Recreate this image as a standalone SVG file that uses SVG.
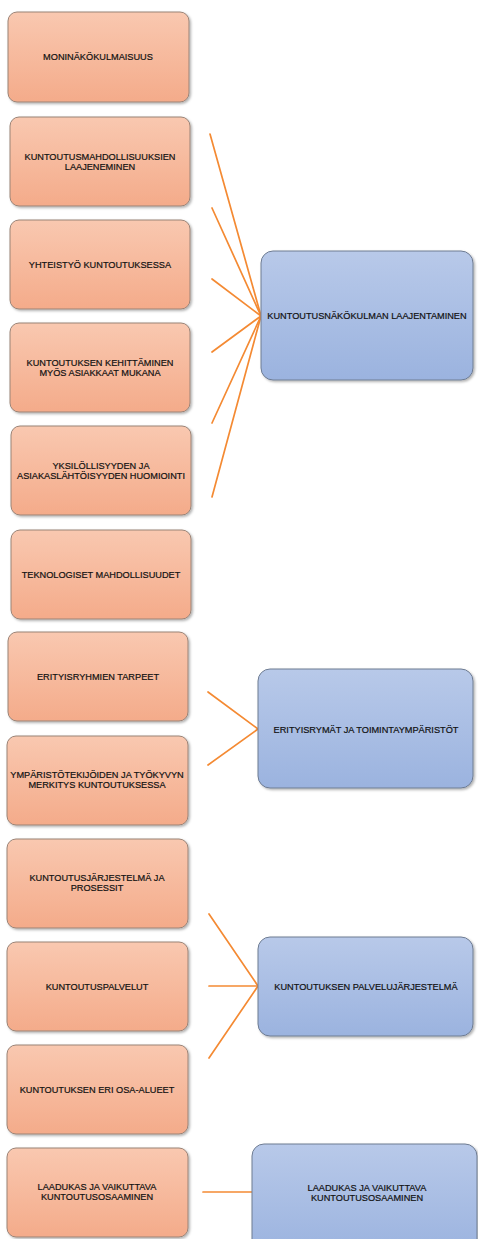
<svg xmlns="http://www.w3.org/2000/svg" width="478" height="1239" viewBox="0 0 478 1239">
  <style>
    .topic { stroke: #9a8376; stroke-width: 1; fill: url(#peach); filter: url(#shadow); }
    .theme { stroke: #6e7c92; stroke-width: 1; fill: url(#blue); filter: url(#shadow); }
    .label { font-family: "Liberation Sans", Arial, sans-serif; font-size: 9.2px; fill: #111111; stroke: #111111; stroke-width: 0.2; text-anchor: middle; }
    .link { stroke: #f48a33; stroke-width: 1.7; fill: none; stroke-linecap: round; }
  </style>
  <defs>
    <linearGradient id="peach" x1="0" y1="0" x2="0" y2="1">
      <stop offset="0" stop-color="#f9c8b0"/>
      <stop offset="1" stop-color="#f4ab8a"/>
    </linearGradient>
    <linearGradient id="blue" x1="0" y1="0" x2="0" y2="1">
      <stop offset="0" stop-color="#b8c9e9"/>
      <stop offset="1" stop-color="#9bb3df"/>
    </linearGradient>
    <filter id="shadow" x="-10%" y="-10%" width="125%" height="125%">
      <feDropShadow dx="1.5" dy="1.5" stdDeviation="1" flood-color="#000" flood-opacity="0.3"/>
    </filter>
  </defs>
  <rect width="478" height="1239" fill="#ffffff"/>

  <!-- connectors -->
  <g id="connectors">
    <line class="link" x1="210" y1="134" x2="261" y2="316"/>
    <line class="link" x1="212" y1="208" x2="261" y2="316"/>
    <line class="link" x1="212" y1="279" x2="261" y2="316"/>
    <line class="link" x1="212" y1="352" x2="261" y2="316"/>
    <line class="link" x1="212" y1="423" x2="261" y2="316"/>
    <line class="link" x1="212" y1="497" x2="261" y2="316"/>
    <line class="link" x1="208" y1="692" x2="258" y2="729"/>
    <line class="link" x1="208" y1="765" x2="258" y2="729"/>
    <line class="link" x1="209" y1="914" x2="258" y2="986"/>
    <line class="link" x1="209" y1="986" x2="258" y2="986"/>
    <line class="link" x1="209" y1="1058" x2="258" y2="986"/>
    <line class="link" x1="203" y1="1192" x2="252" y2="1192"/>
  </g>

  <!-- topic boxes -->
  <g id="moninakokulmaisuus">
    <rect class="topic" x="8" y="12" width="181" height="90" rx="9"/>
    <text class="label" x="98" y="60">MONINÄKÖKULMAISUUS</text>
  </g>
  <g id="mahdollisuudet">
    <rect class="topic" x="10" y="117" width="180" height="89" rx="9"/>
    <text class="label" x="100" y="160">KUNTOUTUSMAHDOLLISUUKSIEN</text>
    <text class="label" x="100" y="170">LAAJENEMINEN</text>
  </g>
  <g id="yhteistyo">
    <rect class="topic" x="10" y="220" width="180" height="89" rx="9"/>
    <text class="label" x="100" y="268">YHTEISTYÖ KUNTOUTUKSESSA</text>
  </g>
  <g id="kehittaminen">
    <rect class="topic" x="10" y="323" width="180" height="89" rx="9"/>
    <text class="label" x="100" y="366">KUNTOUTUKSEN KEHITTÄMINEN</text>
    <text class="label" x="100" y="376">MYÖS ASIAKKAAT MUKANA</text>
  </g>
  <g id="yksilollisyys">
    <rect class="topic" x="11" y="426" width="180" height="89" rx="9"/>
    <text class="label" x="101" y="469">YKSILÖLLISYYDEN JA</text>
    <text class="label" x="101" y="479">ASIAKASLÄHTÖISYYDEN HUOMIOINTI</text>
  </g>
  <g id="teknologia">
    <rect class="topic" x="11" y="530" width="180" height="89" rx="9"/>
    <text class="label" x="101" y="578">TEKNOLOGISET MAHDOLLISUUDET</text>
  </g>
  <g id="erityisryhmat">
    <rect class="topic" x="8" y="632" width="180" height="89" rx="9"/>
    <text class="label" x="98" y="680">ERITYISRYHMIEN TARPEET</text>
  </g>
  <g id="ymparisto">
    <rect class="topic" x="7" y="736" width="181" height="89" rx="9"/>
    <text class="label" x="97" y="778">YMPÄRISTÖTEKIJÖIDEN JA TYÖKYVYN</text>
    <text class="label" x="97" y="788">MERKITYS KUNTOUTUKSESSA</text>
  </g>
  <g id="jarjestelma">
    <rect class="topic" x="7" y="839" width="181" height="89" rx="9"/>
    <text class="label" x="97" y="881">KUNTOUTUSJÄRJESTELMÄ JA</text>
    <text class="label" x="97" y="891">PROSESSIT</text>
  </g>
  <g id="palvelut">
    <rect class="topic" x="7" y="942" width="181" height="89" rx="9"/>
    <text class="label" x="97" y="990">KUNTOUTUSPALVELUT</text>
  </g>
  <g id="osa-alueet">
    <rect class="topic" x="7" y="1045" width="181" height="89" rx="9"/>
    <text class="label" x="97" y="1093">KUNTOUTUKSEN ERI OSA-ALUEET</text>
  </g>
  <g id="osaaminen">
    <rect class="topic" x="7" y="1148" width="181" height="89" rx="9"/>
    <text class="label" x="97" y="1190">LAADUKAS JA VAIKUTTAVA</text>
    <text class="label" x="97" y="1200">KUNTOUTUSOSAAMINEN</text>
  </g>

  <!-- theme boxes -->
  <g id="nakokulma">
    <rect class="theme" x="261" y="251" width="212" height="129" rx="12"/>
    <text class="label" x="367" y="319">KUNTOUTUSNÄKÖKULMAN LAAJENTAMINEN</text>
  </g>
  <g id="ymparistot">
    <rect class="theme" x="258" y="669" width="215" height="119" rx="12"/>
    <text class="label" x="366" y="733">ERITYISRYMÄT JA TOIMINTAYMPÄRISTÖT</text>
  </g>
  <g id="palvelujarjestelma">
    <rect class="theme" x="258" y="937" width="215" height="99" rx="12"/>
    <text class="label" x="366" y="990">KUNTOUTUKSEN PALVELUJÄRJESTELMÄ</text>
  </g>
  <g id="kuntoutusosaaminen">
    <rect class="theme" x="252" y="1144" width="225" height="110" rx="12"/>
    <text class="label" x="367" y="1191">LAADUKAS JA VAIKUTTAVA</text>
    <text class="label" x="367" y="1201">KUNTOUTUSOSAAMINEN</text>
  </g>
</svg>
